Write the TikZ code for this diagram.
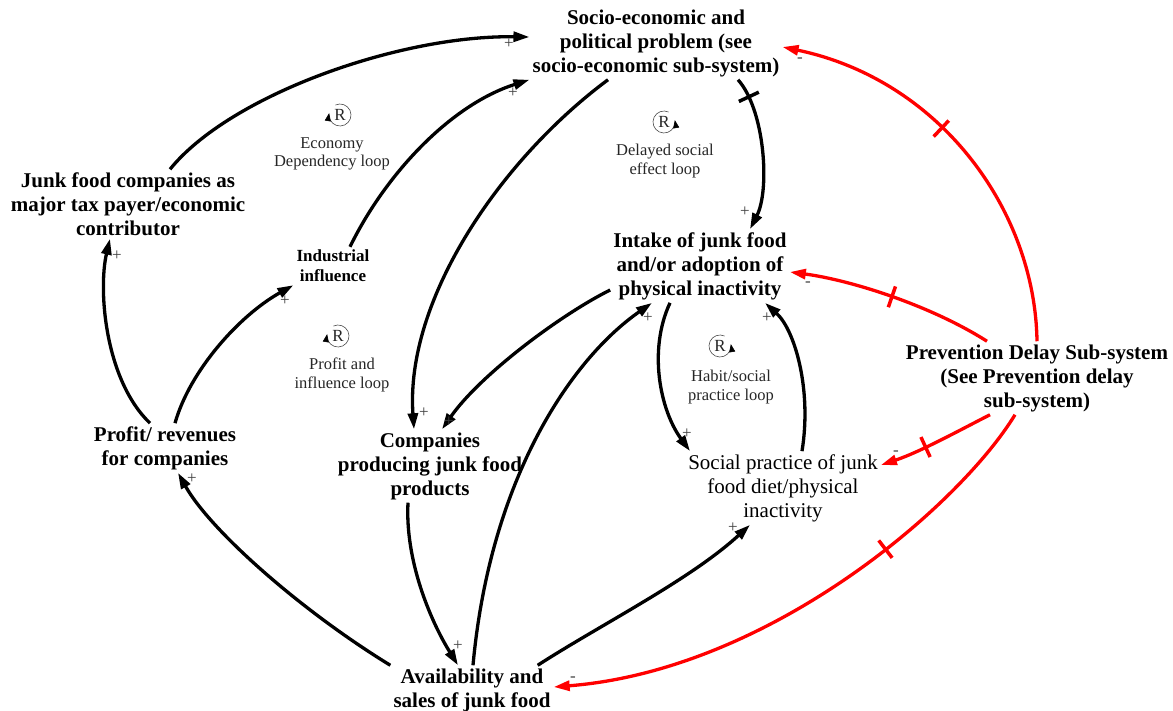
\documentclass[tikz,border=0pt]{standalone}
\usepackage{fontspec}
\setmainfont{Liberation Serif}
\usetikzlibrary{arrows.meta,decorations.markings}
\begin{document}
\begin{tikzpicture}[x=1pt,y=-1pt,
  var/.style={font=\fontsize{21}{24}\selectfont\bfseries, align=center, inner sep=3pt},
  plainvar/.style={font=\fontsize{21}{24}\selectfont, align=center, inner sep=3pt},
  smallvar/.style={font=\fontsize{17}{20}\selectfont\bfseries, align=center, inner sep=3pt},
  looptxt/.style={font=\fontsize{16.5}{18.5}\selectfont, align=center, inner sep=0pt, text=black!85},
  loopR/.style={font=\fontsize{17}{17}\selectfont, inner sep=0pt, text=black!85},
  looparc/.style={line width=0.6pt, draw=black!70, -{Triangle[length=8pt,width=6pt,color=black]}},
  pol/.style={font=\fontsize{17}{17}\selectfont, inner sep=0pt, text=black!75},
  link/.style={line width=3.3pt, -{Triangle[length=16pt,width=10pt]}},
  neg/.style={link, color=red},
  delayat/.style 2 args={postaction={decorate,decoration={markings,
     mark=at position #1 with {\draw[line width=3.5pt,draw=#2,-] (0,-11pt) -- (0,11pt);}}}},
]
\fill[white] (0,0) rectangle (1173,711);
\useasboundingbox (0,0) rectangle (1173,711);

% variables
\node[var] (SE) at (656,43) {Socio-economic and\\political problem (see\\socio-economic sub-system)};
\node[var] (JF) at (128,204) {Junk food companies as\\major tax payer/economic\\contributor};
\node[smallvar] (II) at (333,266) {Industrial\\influence};
\node[var] (PR) at (165,448) {Profit/ revenues\\for companies};
\node[var] (CO) at (430,466) {Companies\\producing junk food\\products};
\node[var] (IN) at (700,266) {Intake of junk food\\and/or adoption of\\physical inactivity};
\node[plainvar] (SP) at (783,488) {Social practice of junk\\food diet/physical\\inactivity};
\node[var] (PD) at (1037,378) {Prevention Delay Sub-system\\(See Prevention delay\\sub-system)};
\node[var] (AV) at (472,690) {Availability and\\sales of junk food};

% loop markers
\node[loopR] (L1) at (340,115) {R};
\draw[looparc] (L1.center) ++(245:11) arc[start angle=245, end angle=550, radius=11];
\node[looptxt] (T1) at (332,154) {Economy\\Dependency loop};
\node[loopR] (L2) at (664,122) {R};
\draw[looparc] (L2.center) ++(295:11) arc[start angle=295, end angle=-10, radius=11];
\node[looptxt] (T2) at (665,161) {Delayed social\\effect loop};
\node[loopR] (L3) at (338,336) {R};
\draw[looparc] (L3.center) ++(245:11) arc[start angle=245, end angle=550, radius=11];
\node[looptxt] (T3) at (342,375) {Profit and\\influence loop};
\node[loopR] (L4) at (720,346) {R};
\draw[looparc] (L4.center) ++(295:11) arc[start angle=295, end angle=-10, radius=11];
\node[looptxt] (T4) at (731,387) {Habit/social\\practice loop};

% black links
\draw[link] ([xshift=42pt]JF.north) .. controls (230,95) and (400,35) .. ([yshift=6pt]SE.west);
\draw[link] ([xshift=17pt]II.north) .. controls (385,175) and (450,105) .. (SE.south west);
\draw[link] ([xshift=-15pt]PR.north) .. controls (105,380) and (98,290) .. ([xshift=-18pt]JF.south);
\draw[link] ([xshift=10pt]PR.north) .. controls (190,370) and (240,315) .. (II.south west);
\draw[link] (AV.north west) .. controls (300,610) and (210,530) .. ([xshift=13pt]PR.south);
\draw[link] ([xshift=-48pt]SE.south) .. controls (500,160) and (405,300) .. ([xshift=-16pt]CO.north);
\draw[link] ([yshift=-24pt]IN.west) .. controls (560,315) and (480,375) .. ([xshift=12pt]CO.north);
\draw[link] ([xshift=-22pt]CO.south) .. controls (405,560) and (430,620) .. ([xshift=-14pt]AV.north);
\draw[link] ([xshift=1pt]AV.north) .. controls (490,480) and (570,360) .. ([xshift=-48pt]IN.south);
\draw[link] ([xshift=-16pt]AV.north east) .. controls (600,625) and (690,580) .. ([xshift=-33pt]SP.south);
\draw[link] ([xshift=-30pt]IN.south) .. controls (648,350) and (660,410) .. ([xshift=5pt]SP.north west);
\draw[link] ([xshift=19pt]SP.north) .. controls (812,390) and (795,330) .. ([xshift=65pt]IN.south);
\draw[link, delayat={0.13}{black}] ([xshift=82pt]SE.south) .. controls (765,110) and (770,190) .. ([xshift=50pt]IN.north);

% red links
\draw[neg, delayat={0.57}{red}] (PD.north) .. controls (1035,210) and (940,80) .. ([yshift=-4pt]SE.east);
\draw[neg, delayat={0.5}{red}] ([xshift=-50pt]PD.north) .. controls (930,305) and (850,280) .. ([yshift=-6pt]IN.east);
\draw[neg, delayat={0.6}{red}] ([xshift=-47pt]PD.south) .. controls (960,430) and (920,452) .. ([yshift=23pt]SP.east);
\draw[neg, delayat={0.34}{red}] ([xshift=-22pt]PD.south) .. controls (960,505) and (770,670) .. ([yshift=3pt]AV.east);

% polarities
\node[pol] (p1) at (509,44) {+};
\node[pol] (p2) at (513,93) {+};
\node[pol] (p3) at (117,256) {+};
\node[pol] (p4) at (285,301) {+};
\node[pol] (p5) at (192,479) {+};
\node[pol] (p6) at (424,413) {+};
\node[pol] (p7) at (449,422) {+};
\node[pol] (p8) at (458,646) {+};
\node[pol] (p9) at (648,318) {+};
\node[pol] (p10) at (767,318) {+};
\node[pol] (p11) at (687,434) {+};
\node[pol] (p12) at (733,528) {+};
\node[pol] (p13) at (745,212) {+};
\node[pol] (m1) at (800,60) {-};
\node[pol] (m2) at (808,284) {-};
\node[pol] (m3) at (896,453) {-};
\node[pol] (m4) at (573,679) {-};
\end{tikzpicture}
\end{document}
